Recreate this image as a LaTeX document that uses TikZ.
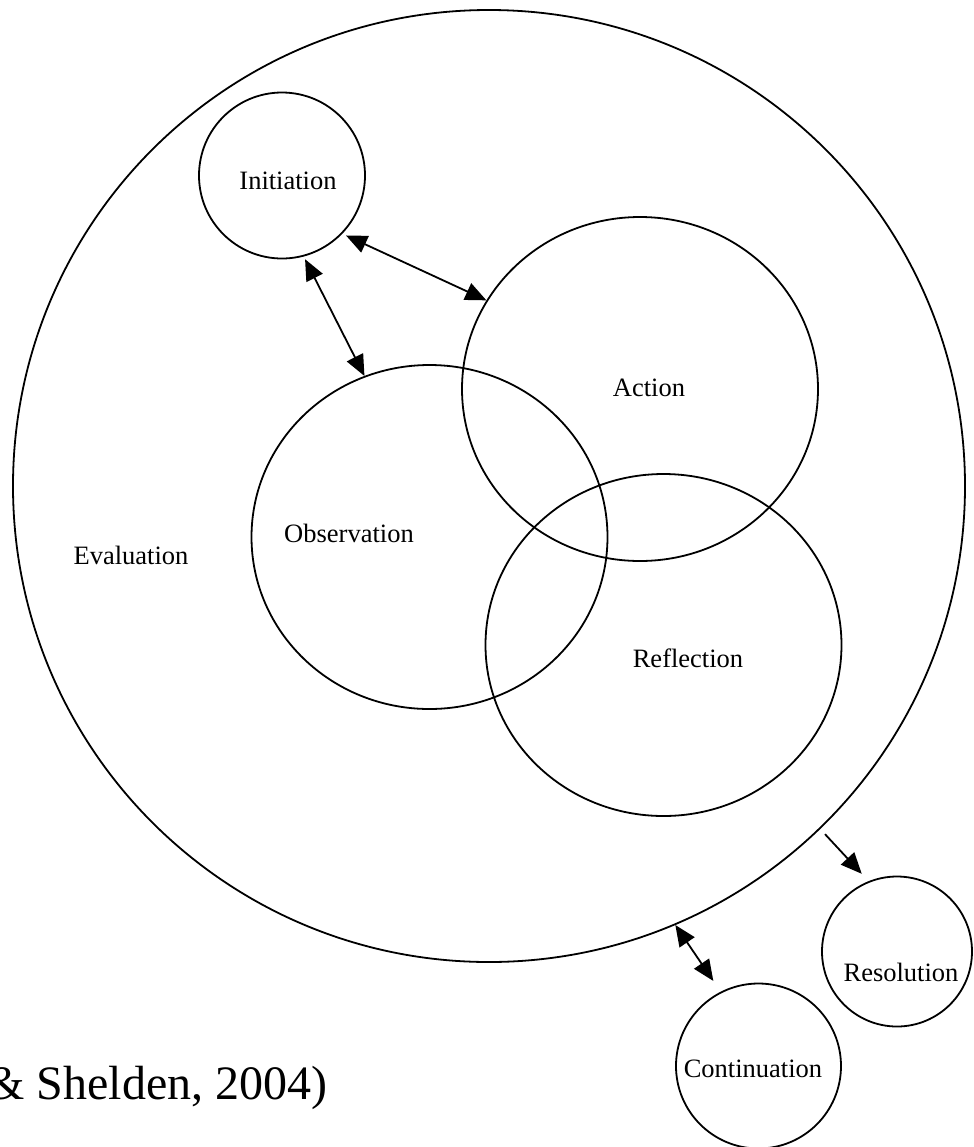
\documentclass[tikz,border=0pt]{standalone}
\usepackage{fontspec}
\setmainfont{Liberation Serif}
\usetikzlibrary{arrows.meta,shapes.geometric}

\tikzset{
  ring/.style={draw, circle, line width=0.9pt, inner sep=0pt},
  stage/.style={draw, ellipse, line width=0.9pt, inner sep=0pt,
    minimum width=178pt, minimum height=172pt},
  lbl/.style={font=\fontsize{13.25}{16}\selectfont},
  link/.style={line width=0.9pt,
    {Triangle[length=10.5pt,width=9pt]}-{Triangle[length=10.5pt,width=9pt]}},
  oneway/.style={line width=0.9pt, -{Triangle[length=10.5pt,width=9pt]}},
}

\begin{document}
\begin{tikzpicture}[x=0.5pt,y=-0.5pt]
  \useasboundingbox (0,0) rectangle (974,1147);
  % circles
  \node[ring, minimum size=476pt] (eval) at (489,486) {};
  \node[ring, minimum size=83pt] (init) at (282,175.5) {};
  \node[stage] (act) at (640,389) {};
  \node[stage] (obs) at (429.5,537) {};
  \node[stage, minimum height=171pt] (refl) at (663.5,645) {};
  \node[ring, minimum size=75pt] (res) at (897,951.5) {};
  \node[ring, minimum size=82.5pt] (cont) at (758.5,1066) {};
  % labels
  \foreach \nm/\x/\y/\txt in {initlbl/288/181/Initiation, actlbl/649/388/Action,
      obslbl/349/533/Observation, evallbl/131/555/Evaluation,
      refllbl/688/658/Reflection, reslbl/901/972/Resolution,
      contlbl/753/1069/Continuation}
    {\node[lbl] (\nm) at (\x,\y) {\txt};}
  % arrows
  \draw[link, shorten <=2pt] (init.-44) -- (act.150);
  \draw[link, shorten <=1.5pt] (init.-75) -- (obs.112);
  \draw[oneway, shorten <=3.5pt, shorten >=5pt] (eval.-46) -- (res.112);
  \draw[link, shorten >=6.5pt] (eval.-67) -- (cont.117);
  \begin{scope}
    \clip (0,0) rectangle (974,1147);
    \node[anchor=base west, inner sep=0pt, font=\fontsize{24}{28}\selectfont]
      (cite) at (-13,1099) {\& Shelden, 2004)};
  \end{scope}
\end{tikzpicture}
\end{document}
